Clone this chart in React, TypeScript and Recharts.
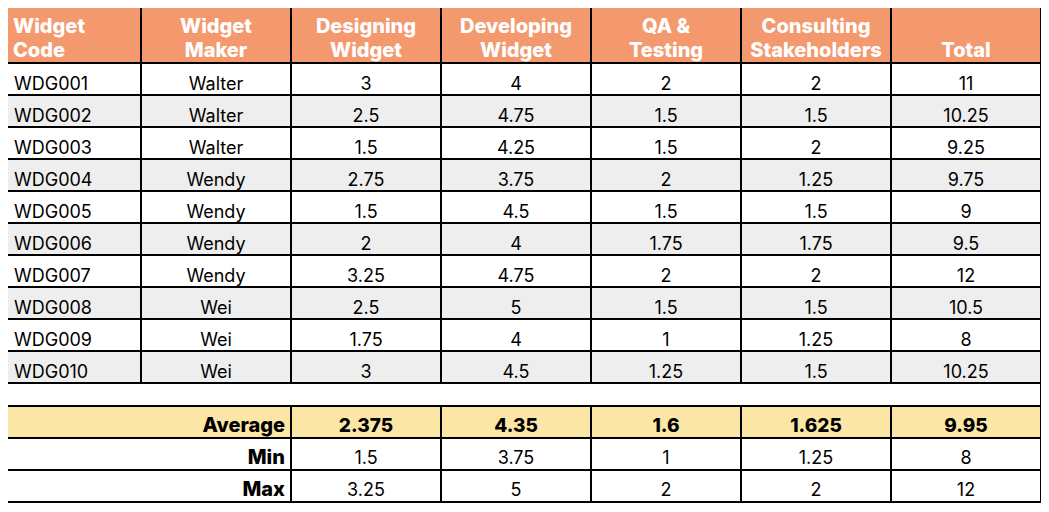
import { Bar, BarChart, XAxis, YAxis } from "recharts";

const HEADERS = [
  ["Widget", "Code"],
  ["Widget", "Maker"],
  ["Designing", "Widget"],
  ["Developing", "Widget"],
  ["QA &", "Testing"],
  ["Consulting", "Stakeholders"],
  ["Total"],
];

const CODES = ["WDG001", "WDG002", "WDG003", "WDG004", "WDG005", "WDG006", "WDG007", "WDG008", "WDG009", "WDG010"];
const MAKERS = ["Walter", "Walter", "Walter", "Wendy", "Wendy", "Wendy", "Wendy", "Wei", "Wei", "Wei"];
const DESIGNING = [3, 2.5, 1.5, 2.75, 1.5, 2, 3.25, 2.5, 1.75, 3];
const DEVELOPING = [4, 4.75, 4.25, 3.75, 4.5, 4, 4.75, 5, 4, 4.5];
const QA_TESTING = [2, 1.5, 1.5, 2, 1.5, 1.75, 2, 1.5, 1, 1.25];
const CONSULTING = [2, 1.5, 2, 1.25, 1.5, 1.75, 2, 1.5, 1.25, 1.5];
const TOTAL = [11, 10.25, 9.25, 9.75, 9, 9.5, 12, 10.5, 8, 10.25];

const SUMMARY_LABELS = ["Average", "Min", "Max"];
const AVERAGE = [2.375, 4.35, 1.6, 1.625, 9.95];
const MIN = [1.5, 3.75, 1, 1.25, 8];
const MAX = [3.25, 5, 2, 2, 12];

// layout
const COL_W = [135, 150, 150, 150, 150, 150, 150];
const TABLE_W = COL_W.reduce((a, b) => a + b, 0);
const FONT = "Inter, 'Open Sans', sans-serif";
const HEAD_BG = "#f4996e";
const ZEBRA = "#eeeeee";
const AVG_BG = "#fce6a6";
const LINE = "#000";
const MARGIN = { top: 0, right: 8, bottom: 0, left: 6 };

const headerData = [
  Object.fromEntries([["row", "h"], ...COL_W.map((w, i) => [`c${i}`, w])]),
];

const bodyData = CODES.map((code, r) => ({
  row: code,
  cells: [code, MAKERS[r], DESIGNING[r], DEVELOPING[r], QA_TESTING[r], CONSULTING[r], TOTAL[r]],
  ...Object.fromEntries(COL_W.map((w, i) => [`c${i}`, w])),
}));

const spacerData = [{ row: "s", c0: TABLE_W }];

const summaryData = [AVERAGE, MIN, MAX].map((vals, r) => ({
  row: SUMMARY_LABELS[r],
  cells: [SUMMARY_LABELS[r], ...vals],
  c0: COL_W[0] + COL_W[1],
  ...Object.fromEntries(COL_W.slice(2).map((w, i) => [`c${i + 1}`, w])),
}));

function headerShape(col: number) {
  return (p: any) => {
    const { x, y, width, height } = p;
    const lines = HEADERS[col];
    const left = col === 0;
    const tx = left ? x + 7 : x + width / 2;
    return (
      <g>
        <rect x={x} y={y} width={width} height={height} fill={HEAD_BG} stroke={LINE} strokeWidth={2} />
        {lines.map((t, k) => (
          <text
            key={k}
            x={tx}
            y={y + height - 6 - (lines.length - 1 - k) * 24}
            textAnchor={left ? "start" : "middle"}
            fill="#fff"
            fontFamily={FONT}
            fontWeight={800}
            fontSize={20}
          >
            {t}
          </text>
        ))}
      </g>
    );
  };
}

function bodyShape(col: number) {
  return (p: any) => {
    const { x, y, width, height, payload, index } = p;
    const left = col === 0;
    return (
      <g>
        <rect x={x} y={y} width={width} height={height} fill={index % 2 ? ZEBRA : "#fff"} stroke={LINE} strokeWidth={2} />
        <text
          x={left ? x + 8 : x + width / 2}
          y={y + height - 5}
          textAnchor={left ? "start" : "middle"}
          fill="#000"
          fontFamily={FONT}
          fontSize={18}
        >
          {String(payload.cells[col])}
        </text>
      </g>
    );
  };
}

function spacerShape(p: any) {
  const { x, y, width, height } = p;
  return <rect x={x} y={y} width={width} height={height} fill="#fff" stroke={LINE} strokeWidth={2} />;
}

function summaryShape(col: number) {
  return (p: any) => {
    const { x, y, width, height, payload, index } = p;
    const label = col === 0;
    const avg = index === 0;
    return (
      <g>
        <rect x={x} y={y} width={width} height={height} fill={avg ? AVG_BG : "#fff"} stroke={LINE} strokeWidth={2} />
        <text
          x={label ? x + width - 6 : x + width / 2}
          y={y + height - 6}
          textAnchor={label ? "end" : "middle"}
          fill="#000"
          fontFamily={FONT}
          fontWeight={label || avg ? 800 : 400}
          fontSize={label ? 20 : avg ? 19 : 18}
        >
          {String(payload.cells[col])}
        </text>
      </g>
    );
  };
}

function Section({
  data,
  height,
  keys,
  shape,
  margin,
}: {
  data: any[];
  height: number;
  keys: number;
  shape: (col: number) => (p: any) => React.ReactElement;
  margin: typeof MARGIN;
}) {
  return (
    <BarChart
      width={1049}
      height={height}
      data={data}
      layout="vertical"
      margin={margin}
      barCategoryGap={0}
      barGap={0}
    >
      <XAxis type="number" domain={[0, TABLE_W]} hide />
      <YAxis type="category" dataKey="row" hide />
      {Array.from({ length: keys }, (_, i) => (
        <Bar key={i} dataKey={`c${i}`} stackId="t" isAnimationActive={false} shape={shape(i)} />
      ))}
    </BarChart>
  );
}

export default function App() {
  return (
    <div style={{ margin: -8, width: 1049, height: 512, background: "#fff", paddingTop: 6, boxSizing: "border-box" }}>
      <Section data={headerData} height={57} keys={7} shape={headerShape} margin={{ ...MARGIN, top: 1 }} />
      <Section data={bodyData} height={320} keys={7} shape={bodyShape} margin={MARGIN} />
      <Section data={spacerData} height={23} keys={1} shape={() => spacerShape} margin={MARGIN} />
      <Section data={summaryData} height={97} keys={6} shape={summaryShape} margin={{ ...MARGIN, bottom: 1 }} />
    </div>
  );
}
